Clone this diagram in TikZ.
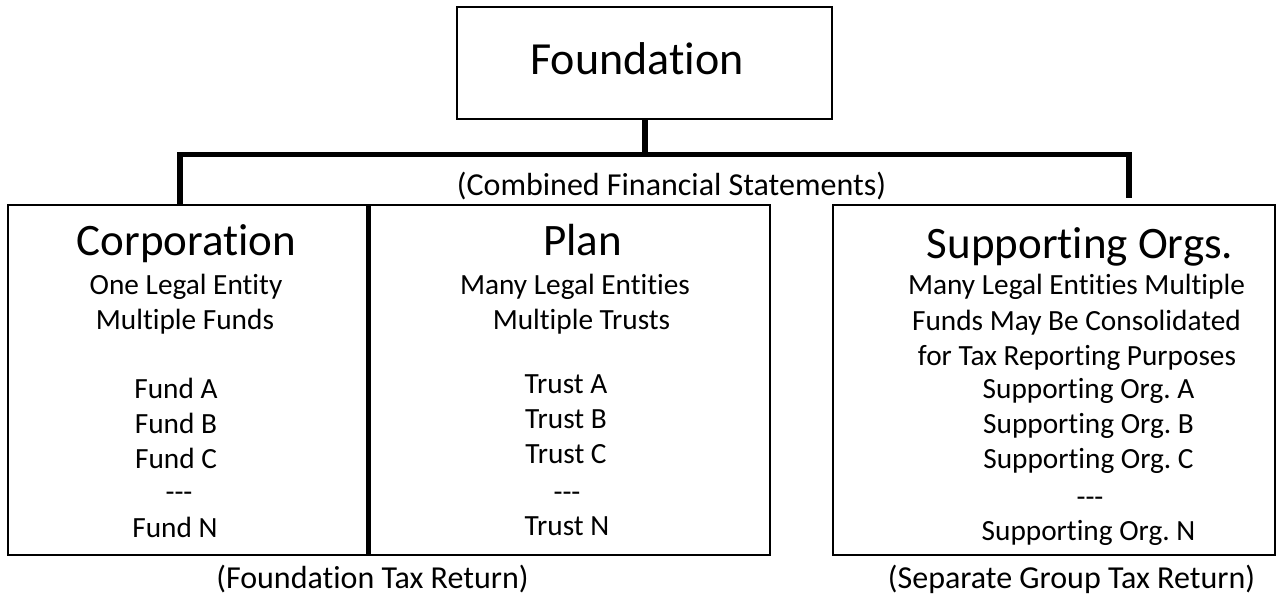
\documentclass[tikz,border=0pt]{standalone}
\usepackage{fontspec}
\setmainfont{Carlito}[Ligatures={NoCommon,NoRare,NoDiscretionary,NoContextual}]
\begin{document}
\frenchspacing
\begin{tikzpicture}[x=1pt,y=-1pt,
  box/.style={draw=black, line width=2.5pt, inner sep=0pt},
  conn/.style={draw=black, line width=5.5pt, line join=miter},
  ttl/.style={font=\fontsize{45}{54}\selectfont, anchor=base, inner sep=0pt},
  txt/.style={font=\fontsize{29.3}{35}\selectfont, anchor=base, inner sep=0pt},
  lbl/.style={font=\fontsize{32}{38}\selectfont, anchor=base, inner sep=0pt}]
\useasboundingbox (0,0) rectangle (1278,594);
\fill[white] (0,0) rectangle (1278,594);

% boxes
\node[box, minimum width=375pt, minimum height=112pt] (found) at (644.5,63) {};
\node[box, minimum width=359pt, minimum height=350pt] (corp) at (187.5,380) {};
\node[box, minimum width=400.5pt, minimum height=350pt] (plan) at (569.75,380) {};
\node[box, minimum width=442pt, minimum height=350pt] (supp) at (1054,380) {};

% connectors
\coordinate (busM) at (645,154.5);
\coordinate (busL) at (180,154.5);
\coordinate (busR) at (1129,154.5);
\coordinate (dropR) at (1129,198);
\draw[conn] (found.south -| busM) -- (busM);
\draw[conn] (busL |- corp.north) -- (busL) -- (busR) -- (dropR);

% texts
\node[ttl, font=\fontsize{46}{55}\selectfont] (foundT) at (637,75) {Foundation};
\node[lbl] (comb) at (671.5,195) {(Combined Financial Statements)};

\node[ttl] (corpT) at (186.5,255) {Corporation};
\node[txt] (corp1) at (186,294) {One Legal Entity};
\node[txt] (corp2) at (185,329) {Multiple Funds};
\node[txt] (fa) at (176,398) {Fund A};
\node[txt] (fb) at (176,433) {Fund B};
\node[txt] (fc) at (176,468) {Fund C};
\node[txt] (fd) at (179,501) {{-}{-}{-}};
\node[txt] (fn) at (175,537) {Fund N};

\node[ttl] (planT) at (582.5,255) {Plan};
\node[txt] (plan1) at (575,294) {Many Legal Entities};
\node[txt] (plan2) at (581.5,329) {Multiple Trusts};
\node[txt] (ta) at (566,393) {Trust A};
\node[txt] (tb) at (566,428) {Trust B};
\node[txt] (tc) at (566,463) {Trust C};
\node[txt] (td) at (567,501) {{-}{-}{-}};
\node[txt] (tn) at (567,535) {Trust N};

\node[ttl] (suppT) at (1080,258) {Supporting Orgs.};
\node[txt] (supp1) at (1076.5,294) {Many Legal Entities Multiple};
\node[txt] (supp2) at (1076.5,330) {Funds May Be Consolidated};
\node[txt] (supp3) at (1077,365) {for Tax Reporting Purposes};
\node[txt] (sa) at (1088.5,398) {Supporting Org. A};
\node[txt] (sb) at (1088.5,433) {Supporting Org. B};
\node[txt] (sc) at (1088.5,468) {Supporting Org. C};
\node[txt] (sd) at (1090,506) {{-}{-}{-}};
\node[txt] (sn) at (1088.5,540) {Supporting Org. N};

\node[lbl] (ftr) at (372.5,588) {(Foundation Tax Return)};
\node[lbl] (sgtr) at (1071.5,588) {(Separate Group Tax Return)};
\end{tikzpicture}
\end{document}
